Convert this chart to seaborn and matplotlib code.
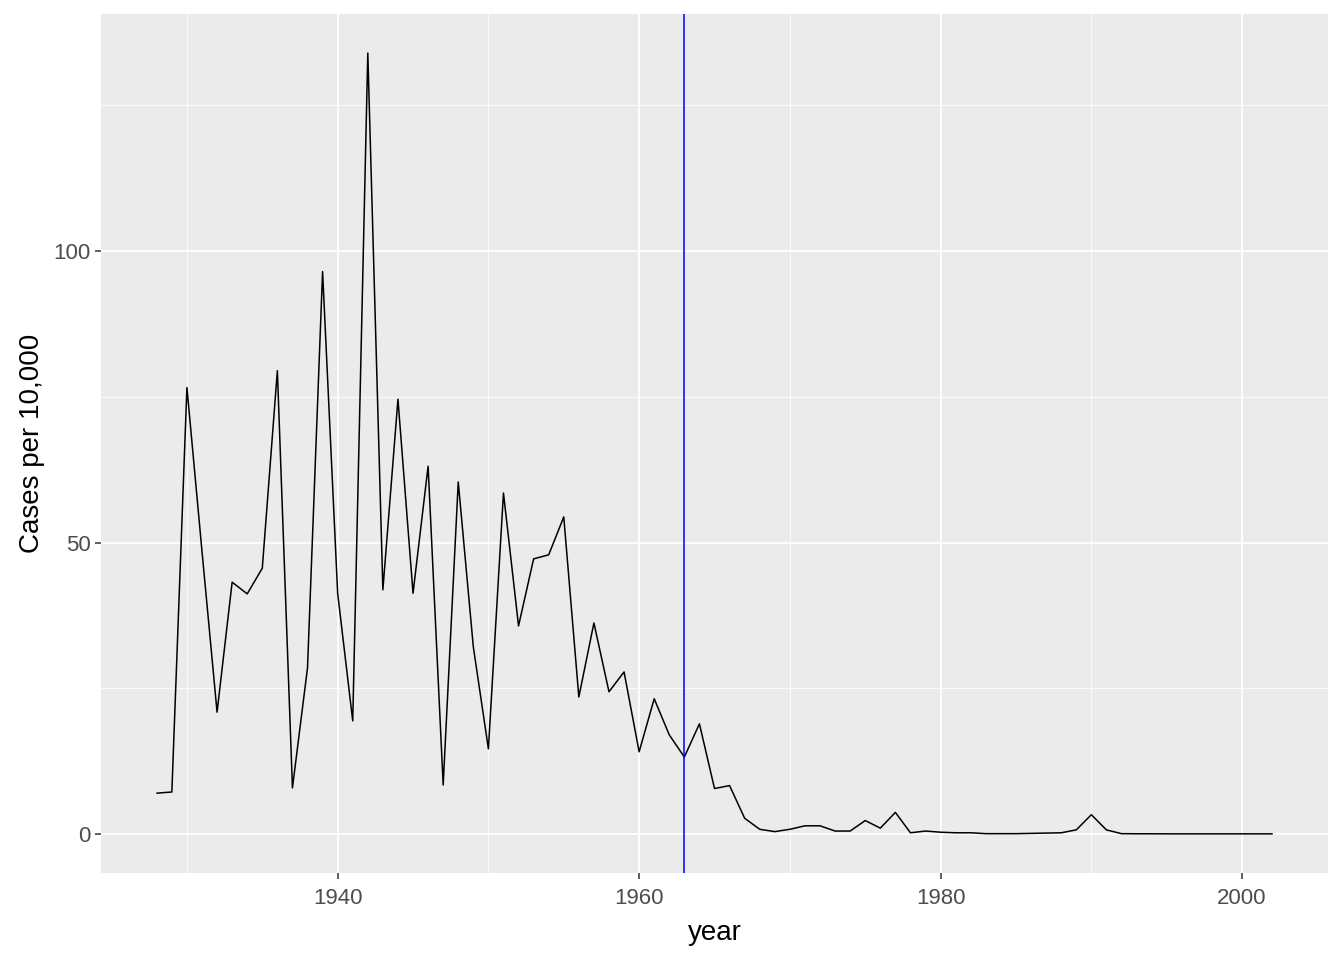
import numpy as np
import pandas as pd
import seaborn as sns
import matplotlib.pyplot as plt
from matplotlib.ticker import MultipleLocator

# Kizamik verisi (okunan degerler)
years = list(range(1928, 2003))
rates = [
    7.0, 7.2, 76.6, 48.5, 20.9, 43.2, 41.2, 45.6, 79.5, 7.9,
    28.5, 96.5, 41.3, 19.4, 134.0, 41.9, 74.6, 41.3, 63.1, 8.4,
    60.4, 32.1, 14.6, 58.5, 35.7, 47.2, 47.9, 54.4, 23.5, 36.2,
    24.4, 27.8, 14.1, 23.2, 17.0, 13.2, 18.9, 7.8, 8.3, 2.7,
    0.8, 0.4, 0.8, 1.4, 1.4, 0.5, 0.5, 2.3, 1.0, 3.7,
    0.2, 0.5, 0.3, 0.2, 0.2, 0.05, 0.05, 0.05, 0.1, 0.15,
    0.2, 0.7, 3.3, 0.7, 0.05, 0.03, 0.03, 0.02, 0.02, 0.02,
    0.02, 0.02, 0.02, 0.02, 0.02,
]
vaccine_year = 1963

df = pd.DataFrame({'year': years, 'rate': rates})

sns.set_theme(style='darkgrid', rc={
    'axes.facecolor': '#EBEBEB',
    'grid.color': 'white',
    'axes.edgecolor': '#EBEBEB',
})
plt.rcParams['font.family'] = ['Liberation Sans', 'DejaVu Sans']

fig = plt.figure(figsize=(13.44, 9.6), dpi=100)
ax = fig.add_axes([101 / 1344, 1 - 873 / 960, 1227 / 1344, 859 / 960])

sns.lineplot(data=df, x='year', y='rate', color='black', linewidth=1.1, ax=ax)
ax.axvline(vaccine_year, color='blue', linewidth=1.1)

ax.set_xlim(1924.3, 2005.7)
ax.set_ylim(-6.7, 140.7)
ax.xaxis.set_major_locator(MultipleLocator(20))
ax.xaxis.set_minor_locator(MultipleLocator(10))
ax.yaxis.set_major_locator(MultipleLocator(50))
ax.yaxis.set_minor_locator(MultipleLocator(25))
ax.grid(which='major', color='white', linewidth=1.3)
ax.grid(which='minor', color='white', linewidth=0.6)
for s in ax.spines.values():
    s.set_visible(False)

ax.tick_params(which='major', bottom=True, left=True, length=4.5, width=1.1,
               color='#333333', labelsize=16, labelcolor='#4D4D4D', pad=3)
ax.tick_params(axis='x', which='major', pad=6)
ax.tick_params(which='minor', bottom=False, left=False, length=0)
ax.set_xlabel('year', fontsize=20, color='black', labelpad=8)
ax.set_ylabel('Cases per 10,000', fontsize=20, color='black', labelpad=6)

plt.savefig('out.png', dpi=100)
